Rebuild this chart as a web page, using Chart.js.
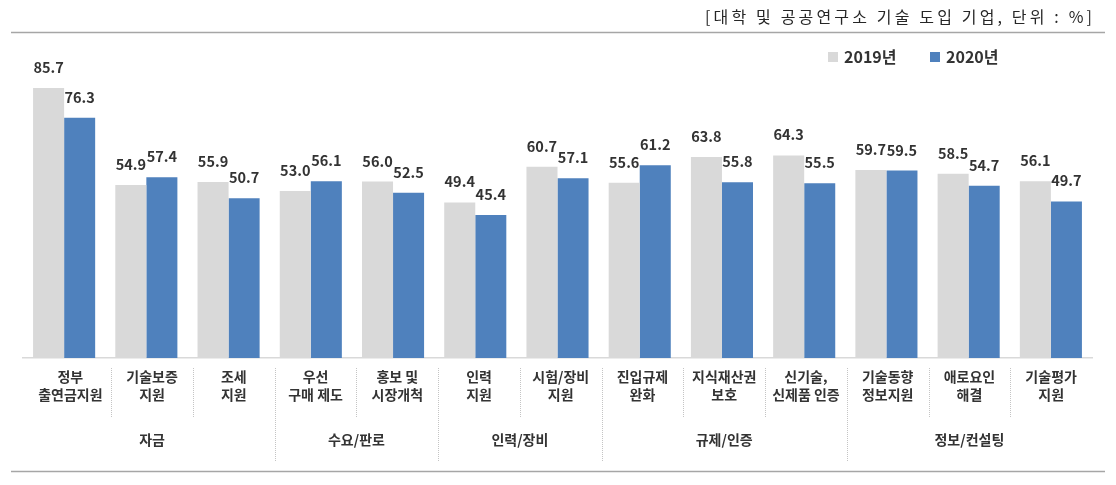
<!DOCTYPE html>
<html>
<head>
<meta charset="utf-8">
<script src="https://cdn.jsdelivr.net/npm/chart.js@4.4.0/dist/chart.umd.min.js"></script>
<style>
  body { margin: 0; background: #fff; }
  #wrap { width: 1116px; height: 485px; }
</style>
</head>
<body>
<div id="wrap"><canvas id="chart" width="1116" height="485"></canvas></div>
<script>
// 데이터
const categories = [
    ['정부', '출연금지원'], ['기술보증', '지원'], ['조세', '지원'],
    ['우선', '구매 제도'], ['홍보 및', '시장개척'],
    ['인력', '지원'], ['시험/장비', '지원'],
    ['진입규제', '완화'], ['지식재산권', '보호'], ['신기술,', '신제품 인증'],
    ['기술동향', '정보지원'], ['애로요인', '해결'], ['기술평가', '지원']
];
const values2019 = [85.7, 54.9, 55.9, 53.0, 56.0, 49.4, 60.7, 55.6, 63.8, 64.3, 59.7, 58.5, 56.1];
const values2020 = [76.3, 57.4, 50.7, 56.1, 52.5, 45.4, 57.1, 61.2, 55.8, 55.5, 59.5, 54.7, 49.7];
const seriesNames = ['2019년', '2020년'];
const groupNames = ['자금', '수요/판로', '인력/장비', '규제/인증', '정보/컨설팅'];
const groupSizes = [3, 2, 2, 3, 3];
const noteText = '[대학 및 공공연구소 기술 도입 기업, 단위 : %]';

const KFONT = '"Noto Sans CJK KR", "Noto Sans", sans-serif';
const TEXT = '#333333';

// 라벨, 범례, 구분선 등을 그리는 플러그인
const decorations = {
    id: 'decorations',
    afterDraw(chart) {
        const ctx = chart.ctx;
        const x = chart.scales.x;
        ctx.save();

        // 상단 주석
        ctx.font = '16px ' + KFONT;
        ctx.fillStyle = '#262626';
        ctx.textBaseline = 'middle';
        ctx.textAlign = 'left';
        const n = [...noteText].length;
        ctx.letterSpacing = '0px';
        const w = ctx.measureText(noteText).width;
        const sp = Math.max(0, (387 - w) / (n - 1));
        ctx.letterSpacing = sp + 'px';
        ctx.fillText(noteText, 705, 17);
        ctx.letterSpacing = '0px';

        // 위, 아래 가로선
        ctx.strokeStyle = '#a6a6a6';
        ctx.lineWidth = 1.5;
        ctx.beginPath();
        ctx.moveTo(11, 32.5); ctx.lineTo(1105, 32.5);
        ctx.moveTo(11, 471.5); ctx.lineTo(1105, 471.5);
        ctx.stroke();

        // 범례
        const lx = [828, 930];
        chart.data.datasets.forEach((ds, i) => {
            ctx.fillStyle = ds.backgroundColor;
            ctx.fillRect(lx[i], 52, 10, 10);
            ctx.fillStyle = TEXT;
            ctx.font = 'bold 16px ' + KFONT;
            ctx.textAlign = 'left';
            ctx.fillText(ds.label, lx[i] + 16, 57);
        });

        // 막대 위 값
        ctx.font = 'bold 14.5px ' + KFONT;
        ctx.textAlign = 'center';
        ctx.textBaseline = 'alphabetic';
        ctx.fillStyle = TEXT;
        chart.data.datasets.forEach((ds, i) => {
            chart.getDatasetMeta(i).data.forEach((bar, j) => {
                ctx.fillText(ds.data[j].toFixed(1), bar.x, bar.y - 15);
            });
        });

        // 항목 라벨
        ctx.font = 'bold 14px ' + KFONT;
        const labelX = i => x.getPixelForValue(i) + 6.25 - 0.5 * i;
        ctx.textBaseline = 'middle';
        categories.forEach((lines, i) => {
            lines.forEach((t, k) => ctx.fillText(t, labelX(i), 377 + k * 18));
        });

        // 구분선
        const ends = [];
        let acc = 0;
        groupSizes.forEach(s => { acc += s; ends.push(acc - 1); });
        ctx.strokeStyle = '#c4c4c4';
        ctx.lineWidth = 1;
        ctx.setLineDash([1, 1]);
        for (let k = 0; k < categories.length - 1; k++) {
            const sx = Math.round((x.getPixelForValue(k) + x.getPixelForValue(k + 1)) / 2 + 6 - 0.5 * k) + 0.5;
            const bottom = ends.includes(k) ? 462 : 417;
            ctx.beginPath();
            ctx.moveTo(sx, 368);
            ctx.lineTo(sx, bottom);
            ctx.stroke();
        }
        ctx.setLineDash([]);

        // 그룹 라벨
        let start = 0;
        groupNames.forEach((g, gi) => {
            const end = start + groupSizes[gi] - 1;
            ctx.fillText(g, (labelX(start) + labelX(end)) / 2, 440);
            start = end + 1;
        });

        ctx.restore();
    }
};

const ctx = document.getElementById('chart').getContext('2d');

const chart = new Chart(ctx, {
    type: 'bar',
    data: {
        labels: categories.map(c => c.join(' ')),
        datasets: [
            { label: seriesNames[0], data: values2019, backgroundColor: '#d9d9d9' },
            { label: seriesNames[1], data: values2020, backgroundColor: '#4f81bd' }
        ]
    },
    options: {
        responsive: false,
        animation: false,
        layout: { padding: { left: 23, right: 24, top: 43, bottom: 0 } },
        categoryPercentage: 0.755,
        barPercentage: 1.0,
        plugins: {
            legend: { display: false },
            tooltip: { enabled: false }
        },
        scales: {
            x: {
                grid: { display: false, drawTicks: false },
                border: { display: true, color: '#d9d9d9', width: 1.5 },
                ticks: { display: false },
                afterFit: s => { s.height = 127; }
            },
            y: {
                display: false,
                min: 0,
                max: 100
            }
        }
    },
    plugins: [decorations]
});
</script>
</body>
</html>
